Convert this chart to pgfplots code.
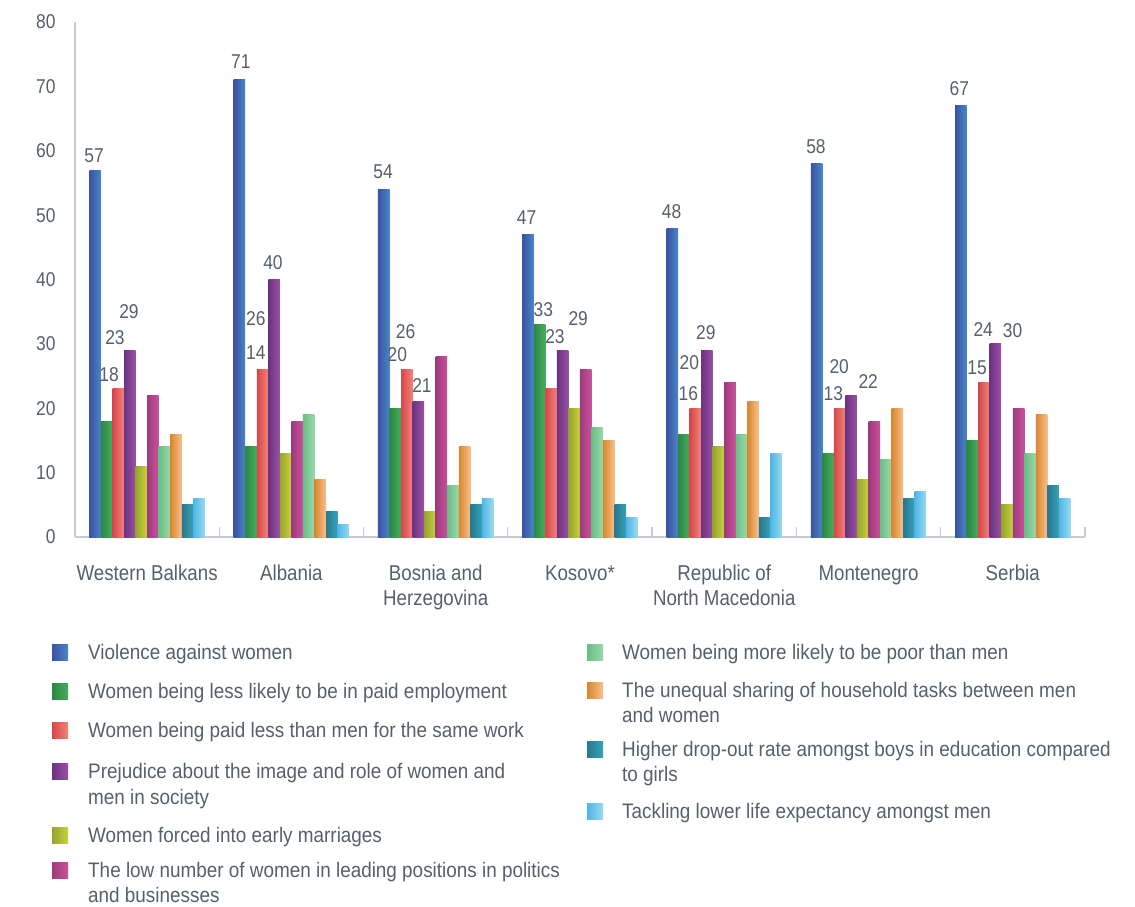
\documentclass[border=0pt]{standalone}
\usepackage{fontspec}
\setmainfont{Liberation Sans}[FakeStretch=0.87]
\newfontfamily\legfam{Liberation Sans}[FakeStretch=0.90]
\usepackage{pgfplots}
\pgfplotsset{compat=1.18}
\definecolor{txt}{HTML}{55606C}
\definecolor{axisgray}{HTML}{C6CBD1}
\definecolor{aL}{HTML}{3A52A2}\definecolor{aR}{HTML}{4A86C8}
\definecolor{bL}{HTML}{2C8642}\definecolor{bR}{HTML}{46AE5E}
\definecolor{cL}{HTML}{D8454A}\definecolor{cR}{HTML}{F08478}
\definecolor{dL}{HTML}{6C3284}\definecolor{dR}{HTML}{9A52A2}
\definecolor{eL}{HTML}{96A42E}\definecolor{eR}{HTML}{C8D23E}
\definecolor{fL}{HTML}{9E3A7E}\definecolor{fR}{HTML}{CA529A}
\definecolor{gL}{HTML}{68BE86}\definecolor{gR}{HTML}{9CD8AA}
\definecolor{hL}{HTML}{D8862E}\definecolor{hR}{HTML}{F8C08E}
\definecolor{iL}{HTML}{28788E}\definecolor{iR}{HTML}{36A2BA}
\definecolor{jL}{HTML}{4EB6E6}\definecolor{jR}{HTML}{9ADAF2}
\newcommand{\numfont}{\fontsize{20}{20}\selectfont}
\newcommand{\legfont}{\legfam\fontsize{21}{25}\selectfont}
\tikzset{lbl/.style={font=\numfont, text=txt, inner sep=0pt}}
\newcommand{\sw}[4]{\fill[left color=#3, right color=#4] (#1pt,{-#2pt+8pt}) rectangle ({#1pt+16pt},{-#2pt-8pt});}
\newcommand{\lt}[3]{\node[anchor=base west, inner sep=0pt, text=txt, font=\legfont] at (#1pt,{-#2pt-7.5pt}) {#3};}
% one series: bar shift, left colour, right colour, group/value pairs
\newcommand{\series}[4]{%
  \foreach \xx/\vv in {#4}{%
    \edef\tmp{\noexpand\addplot[draw=none, left color=#2, right color=#3, bar shift=#1] coordinates {(\xx,\vv)};}\tmp}}
\begin{document}
\begin{tikzpicture}
\path[use as bounding box] (0pt,0pt) rectangle (1135pt,-906pt);
\begin{axis}[
  at={(75pt,-537pt)}, anchor=south west,
  scale only axis, width=1010pt, height=515pt,
  xmin=-0.5, xmax=6.5, ymin=0, ymax=80,
  ybar=0pt, bar width=0.08,
  axis x line=bottom, axis y line=left,
  axis line style={-, draw=axisgray, line width=1.3pt},
  xtick={0,...,6},
  xticklabels={\strut Western Balkans,\strut Albania,{\strut Bosnia and\\Herzegovina},\strut Kosovo*,{\strut Republic of\\North Macedonia},\strut Montenegro,\strut Serbia},
  xticklabel style={align=center, text=txt, font=\fontsize{21.5}{25}\selectfont, anchor=north, yshift=-22pt},
  major tick length=0pt,
  extra x ticks={-0.5,0.5,1.5,2.5,3.5,4.5,5.5,6.5},
  extra x tick labels={},
  extra x tick style={major tick length=10pt, tick align=inside, tick style={draw=axisgray, line width=1.3pt}},
  ytick={0,10,...,80},
  yticklabel style={text=txt, font=\numfont, xshift=-16pt},
  /pgf/number format/assume math mode=true,
  clip=false,
]
\series{-0.36}{aL}{aR}{0/57,1/71,2/54,3/47,4/48,5/58,6/67}
\series{-0.28}{bL}{bR}{0/18,1/14,2/20,3/33,4/16,5/13,6/15}
\series{-0.20}{cL}{cR}{0/23,1/26,2/26,3/23,4/20,5/20,6/24}
\series{-0.12}{dL}{dR}{0/29,1/40,2/21,3/29,4/29,5/22,6/30}
\series{-0.04}{eL}{eR}{0/11,1/13,2/4,3/20,4/14,5/9,6/5}
\series{0.04}{fL}{fR}{0/22,1/18,2/28,3/26,4/24,5/18,6/20}
\series{0.12}{gL}{gR}{0/14,1/19,2/8,3/17,4/16,5/12,6/13}
\series{0.20}{hL}{hR}{0/16,1/9,2/14,3/15,4/21,5/20,6/19}
\series{0.28}{iL}{iR}{0/5,1/4,2/5,3/5,4/3,5/6,6/8}
\series{0.36}{jL}{jR}{0/6,1/2,2/6,3/3,4/13,5/7,6/6}
% value labels
\node[lbl] at (axis cs:-0.368,59.3) {57};
\node[lbl] at (axis cs:-0.264,25.3) {18};
\node[lbl] at (axis cs:-0.223,30.9) {23};
\node[lbl] at (axis cs:-0.126,34.95) {29};
\node[lbl] at (axis cs:0.650,73.8) {71};
\node[lbl] at (axis cs:0.754,34.0) {26};
\node[lbl] at (axis cs:0.754,28.7) {14};
\node[lbl] at (axis cs:0.872,42.7) {40};
\node[lbl] at (axis cs:1.635,56.7) {54};
\node[lbl] at (axis cs:1.792,31.9) {26};
\node[lbl] at (axis cs:1.734,28.3) {20};
\node[lbl] at (axis cs:1.905,23.6) {21};
\node[lbl] at (axis cs:2.630,49.6) {47};
\node[lbl] at (axis cs:2.746,35.4) {33};
\node[lbl] at (axis cs:2.827,31.2) {23};
\node[lbl] at (axis cs:2.988,34.0) {29};
\node[lbl] at (axis cs:3.635,50.5) {48};
\node[lbl] at (axis cs:3.758,27.1) {20};
\node[lbl] at (axis cs:3.751,22.2) {16};
\node[lbl] at (axis cs:3.873,31.8) {29};
\node[lbl] at (axis cs:4.636,60.7) {58};
\node[lbl] at (axis cs:4.797,26.4) {20};
\node[lbl] at (axis cs:4.756,22.2) {13};
\node[lbl] at (axis cs:4.998,24.2) {22};
\node[lbl] at (axis cs:5.629,69.6) {67};
\node[lbl] at (axis cs:5.795,32.3) {24};
\node[lbl] at (axis cs:5.753,26.3) {15};
\node[lbl] at (axis cs:5.999,32.0) {30};
\end{axis}
% legend
\sw{52}{652}{aL}{aR}\lt{88}{652}{Violence against women}
\sw{52}{691}{bL}{bR}\lt{88}{691}{Women being less likely to be in paid employment}
\sw{52}{730}{cL}{cR}\lt{88}{730}{Women being paid less than men for the same work}
\sw{52}{771}{dL}{dR}\lt{88}{771}{Prejudice about the image and role of women and}\lt{88}{797}{men in society}
\sw{52}{835}{eL}{eR}\lt{88}{835}{Women forced into early marriages}
\sw{52}{870}{fL}{fR}\lt{88}{870}{The low number of women in leading positions in politics}\lt{88}{895}{and businesses}
\sw{587}{652}{gL}{gR}\lt{622}{652}{Women being more likely to be poor than men}
\sw{587}{690}{hL}{hR}\lt{622}{690}{The unequal sharing of household tasks between men}\lt{622}{715}{and women}
\sw{587}{749}{iL}{iR}\lt{622}{749}{Higher drop-out rate amongst boys in education compared}\lt{622}{774}{to girls}
\sw{587}{811}{jL}{jR}\lt{622}{811}{Tackling lower life expectancy amongst men}
\end{tikzpicture}
\end{document}
